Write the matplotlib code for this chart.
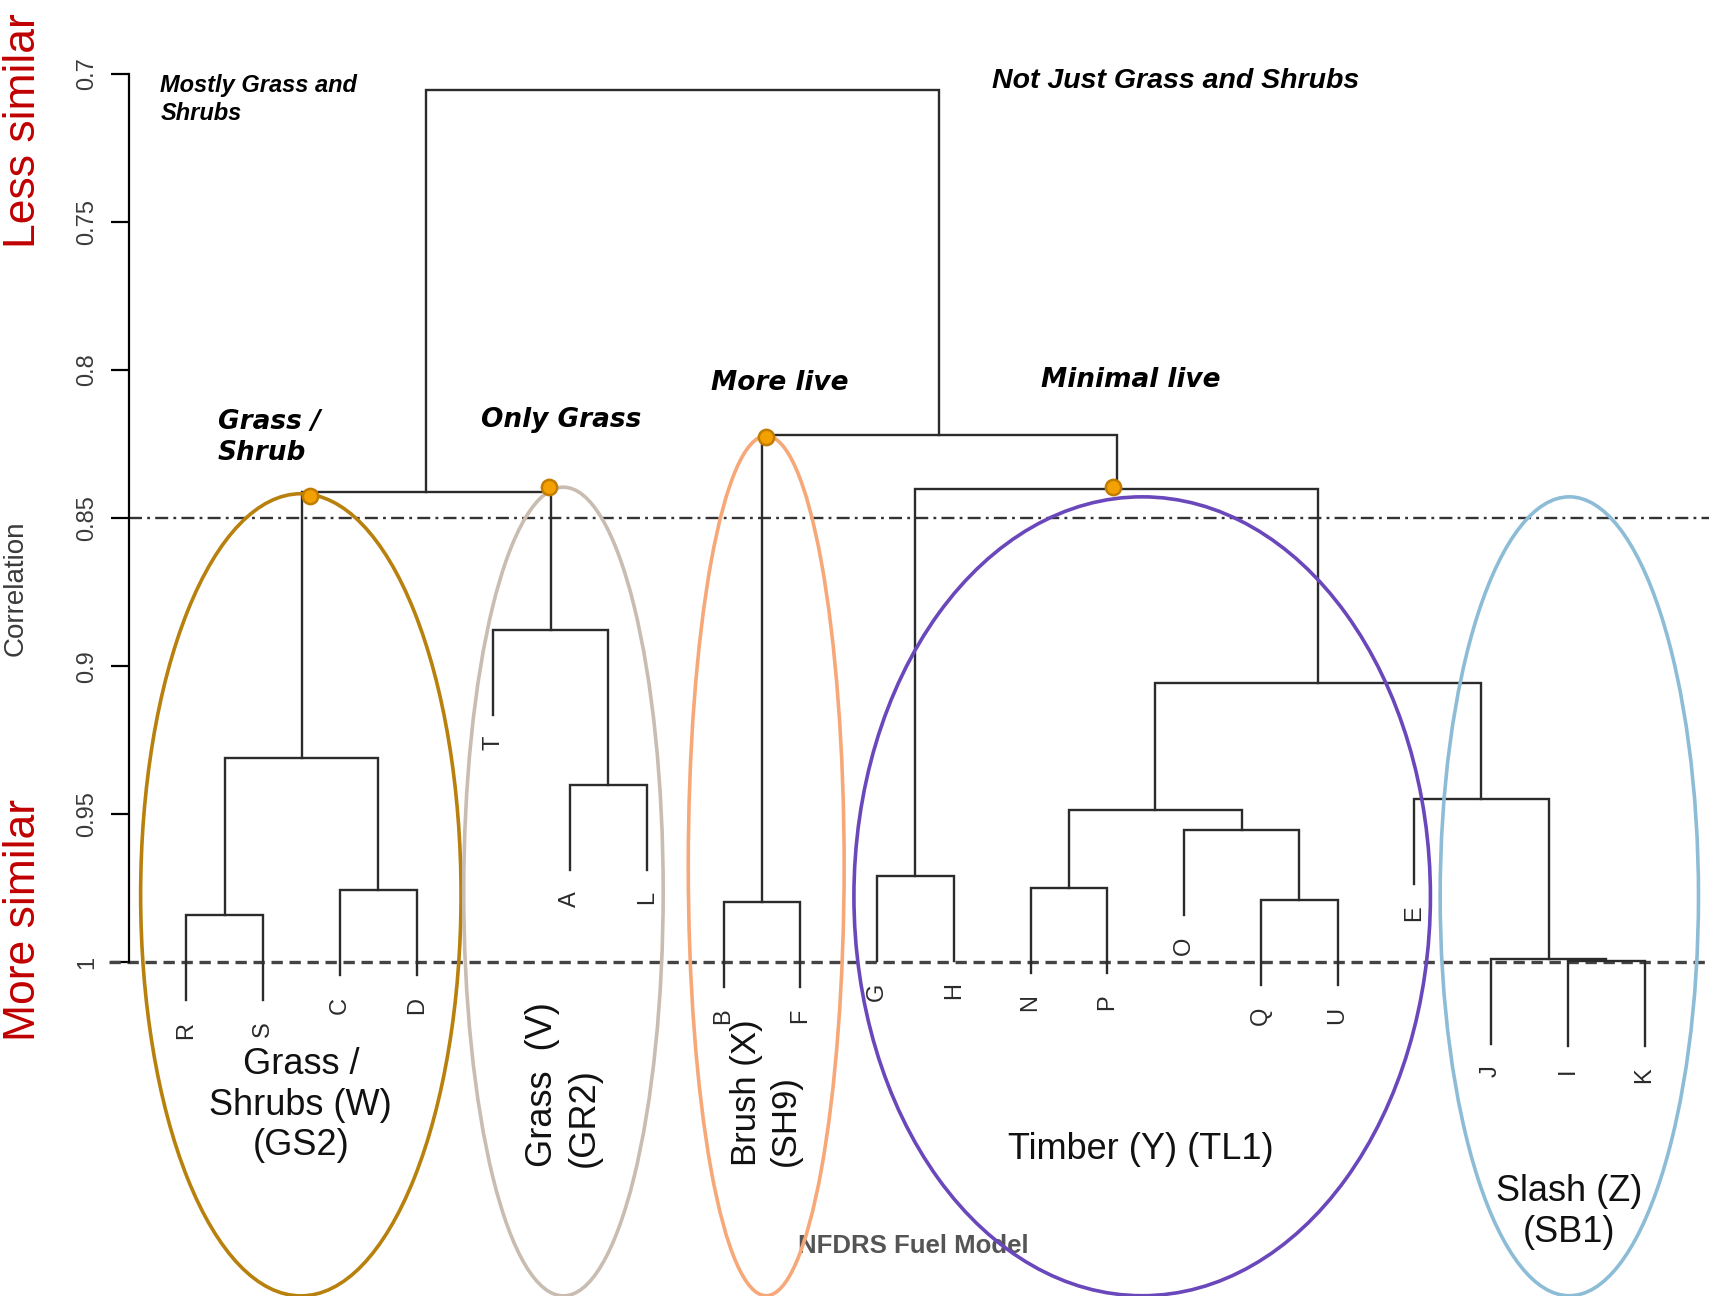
import matplotlib
matplotlib.use("Agg")
import matplotlib.pyplot as plt
from matplotlib.patches import Ellipse

# leaves in plotted order
leaves = ["R", "S", "C", "D", "T", "A", "L", "B", "F", "G",
          "H", "N", "P", "O", "Q", "U", "E", "J", "I", "K"]

# merges: a leaf name or the index of an earlier merge, and the correlation height
merge_left = ["R", "C", 0, "A", "T", 2, "B", "G", "N", "Q",
              "O", 8, "I", "J", "E", 11, 7, 6, 5]
merge_right = ["S", "D", 1, "L", 3, 4, "F", "H", "P", "U",
               9, 10, "K", 12, 13, 14, 15, 16, 17]
merge_height = [0.9841, 0.9757, 0.9311, 0.9400, 0.8877, 0.8413, 0.9797, 0.9709, 0.9749, 0.9790,
                0.9554, 0.9484, 0.9995, 0.9990, 0.9448, 0.9057, 0.8402, 0.8218, 0.7055]

yticks = [0.7, 0.75, 0.8, 0.85, 0.9, 0.95, 1.0]
ytick_labels = ["0.7", "0.75", "0.8", "0.85", "0.9", "0.95", "1"]
cut_strict = 1.0
cut_group = 0.85

# group ellipses and node captions
group_names = ["Grass /\nShrubs (W)\n(GS2)", "Grass  (V)\n(GR2)", "Brush (X)\n(SH9)",
               "Timber (Y) (TL1)", "Slash (Z)\n(SB1)"]
node_names = ["Grass /\nShrub", "Only Grass", "More live", "Minimal live"]

hang = 0.0287
line_col = "#2b2b2b"

fig = plt.figure(figsize=(17.09, 12.96), dpi=100)
ax = fig.add_axes([0, 0, 1, 1])
ax.set_xlim(-1.429, 20.84)
ax.set_ylim(1.1127, 0.675)

# dendrogram
pos = {name: i + 1 for i, name in enumerate(leaves)}
node_x, node_y = [], []
leaf_end = {}
for i, (a, b, h) in enumerate(zip(merge_left, merge_right, merge_height)):
    xs, ys = [], []
    for c in (a, b):
        if isinstance(c, str):
            xs.append(pos[c])
            ys.append(h + hang)
            leaf_end[c] = h + hang
        else:
            xs.append(node_x[c])
            ys.append(node_y[c])
    ax.plot([xs[0], xs[0], xs[1], xs[1]], [ys[0], h, h, ys[1]],
            color=line_col, lw=1.7, solid_joinstyle="miter", zorder=3)
    node_x.append((xs[0] + xs[1]) / 2)
    node_y.append(h)

for name in leaves:
    ax.text(pos[name], leaf_end[name] + 0.0072, name, rotation=90, ha="center", va="top",
            fontsize=17, color="#2a2a2a", family="Liberation Sans")

# reference lines
ax.plot([-0.01, 20.84], [cut_strict, cut_strict], color="#444444", lw=2.4,
        dashes=(3.4, 2.0), zorder=2)
ax.plot([0.247, 20.84], [cut_group, cut_group], color="#333333", lw=1.7,
        dashes=(5.5, 2.2, 1.2, 2.2), zorder=2)

# axis
for s in ["top", "right", "bottom"]:
    ax.spines[s].set_visible(False)
ax.spines["left"].set_position(("data", 0.247))
ax.spines["left"].set_bounds(0.7, 1.0)
ax.spines["left"].set_linewidth(1.6)
ax.set_xticks([])
ax.set_yticks(yticks)
ax.set_yticklabels(ytick_labels, rotation=90, va="center", family="Liberation Sans")
ax.tick_params(axis="y", length=13, width=1.6, labelsize=17, labelcolor="#3a3a3a", pad=9)

fig.text(16 / 1709, 1 - 588 / 1296, "Correlation", rotation=90, ha="center", va="center",
         fontsize=20, color="#3a3a3a", family="Liberation Sans")
fig.text(24 / 1709, 1 - 248 / 1296, "Less similar", rotation=90, ha="center", va="bottom",
         fontsize=32, color="#C00000", family="Liberation Sans")
fig.text(24 / 1709, 1 - 1041 / 1296, "More similar", rotation=90, ha="center", va="bottom",
         fontsize=32, color="#C00000", family="Liberation Sans")

# group ellipses
ell_specs = [(2.491, 0.9772, 4.175, 0.2709, "#B8800C"),
             (5.913, 0.9761, 2.599, 0.2731, "#C9BCB1"),
             (8.555, 0.9674, 2.031, 0.2904, "#F7A878"),
             (13.454, 0.9777, 7.512, 0.2698, "#6A48BC"),
             (19.020, 0.9777, 3.366, 0.2698, "#8DBDD6")]
for cx, cy, w, h, col in ell_specs:
    ax.add_patch(Ellipse((cx, cy), w, h, fill=False, edgecolor=col, lw=2.6, zorder=4))

label_specs = [(2.491, 1.0482, 0, 26), (5.913, 1.0412, 90, 26), (8.555, 1.0442, 90, 25),
               (13.44, 1.0633, 0, 26), (19.02, 1.0843, 0, 26)]
for (x, y, rot, fs), txt in zip(label_specs, group_names):
    ax.text(x, y, txt, rotation=rot, ha="center", va="center",
            multialignment="center" if rot == 0 else "left",
            fontsize=fs, color="#111111", family="Liberation Sans",
            linespacing=1.22, zorder=5)

# highlighted nodes
dot_specs = [(2.605, 0.8424), (5.729, 0.8395), (8.555, 0.8226), (13.07, 0.8395)]
for x, y in dot_specs:
    ax.plot(x, y, "o", ms=11, mfc="#F2A100", mec="#C27C00", mew=1.8, zorder=6)

node_text_specs = [(1.412, 0.8229), (4.834, 0.8167), (7.830, 0.8042), (12.133, 0.8034)]
for (x, y), txt in zip(node_text_specs, node_names):
    ax.text(x, y, txt, ha="left", va="center", fontsize=19, fontweight="bold",
            fontstyle="italic", color="black", family="DejaVu Sans", linespacing=1.25)

ax.text(0.659, 0.7, "Mostly Grass and\nShrubs", ha="left", va="top", fontsize=17,
        fontweight="bold", fontstyle="italic", family="Liberation Sans", linespacing=1.3)
ax.text(11.494, 0.7022, "Not Just Grass and Shrubs", ha="left", va="center", fontsize=20.5,
        fontweight="bold", fontstyle="italic", family="Liberation Sans")

ax.text(10.47, 1.0957, "NFDRS Fuel Model", ha="center", va="center", fontsize=18.5,
        fontweight="bold", color="#555555", family="Liberation Sans")

fig.savefig("out.png", dpi=100)
